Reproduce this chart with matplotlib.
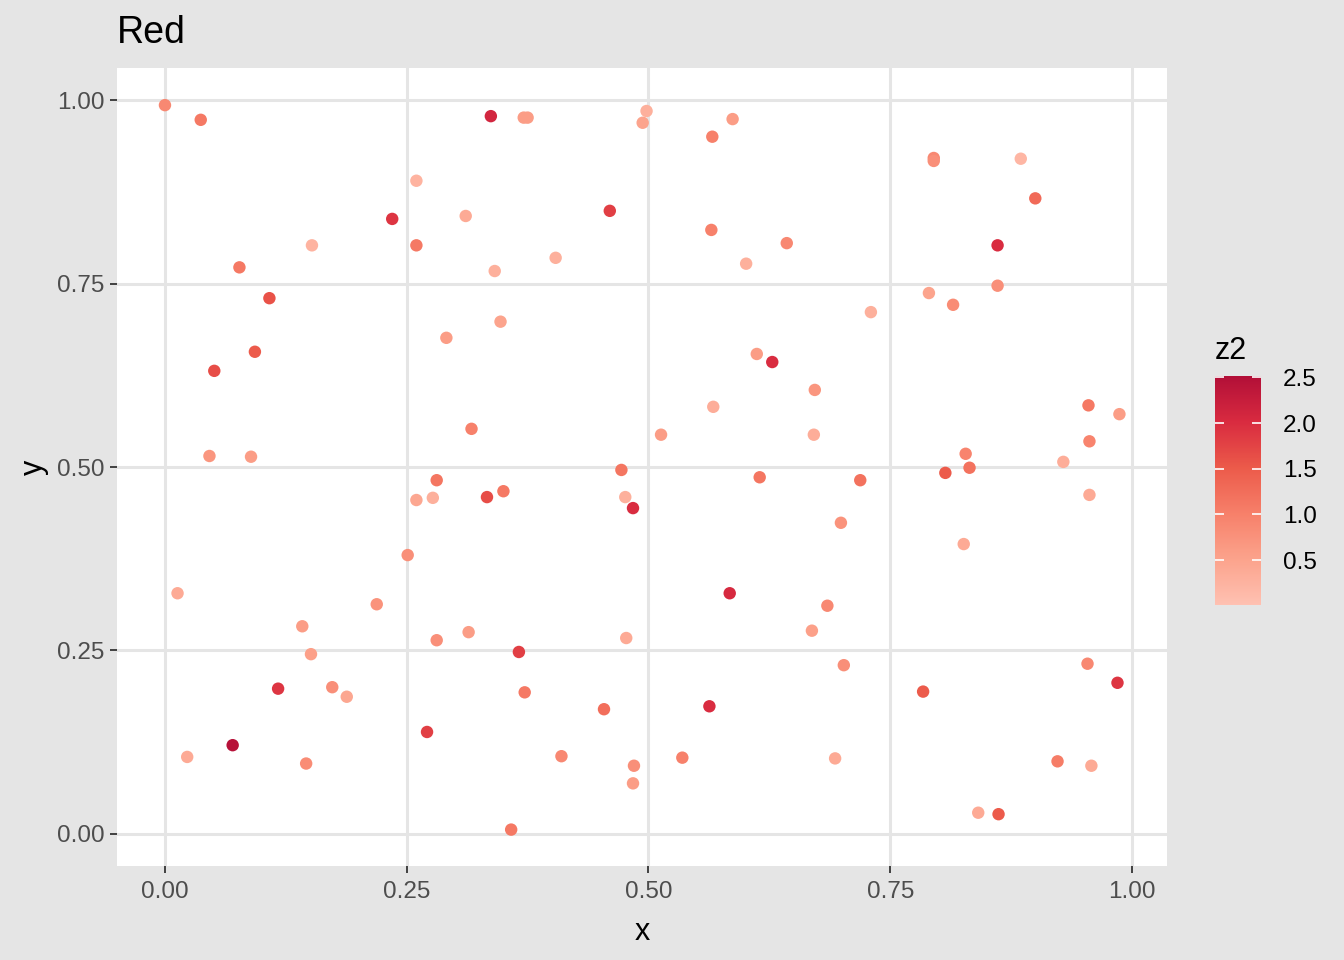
import numpy as np
import matplotlib
matplotlib.use("Agg")
import matplotlib.pyplot as plt
from matplotlib.colors import LinearSegmentedColormap

# points (x, y, z2)
x = [0.000, 0.037, 0.337, 0.371, 0.375, 0.498, 0.494, 0.566, 0.587, 0.795,
     0.795, 0.885, 0.900, 0.235, 0.260, 0.260, 0.311, 0.152, 0.460, 0.565,
     0.643, 0.601, 0.404, 0.341, 0.077, 0.108, 0.093, 0.051, 0.347, 0.291,
     0.317, 0.046, 0.089, 0.513, 0.567, 0.612, 0.628, 0.672, 0.671, 0.861,
     0.861, 0.790, 0.815, 0.730, 0.955, 0.987, 0.956, 0.828, 0.929, 0.281,
     0.260, 0.277, 0.251, 0.013, 0.219, 0.142, 0.314, 0.281, 0.151, 0.117,
     0.173, 0.188, 0.271, 0.070, 0.023, 0.146, 0.472, 0.615, 0.333, 0.350,
     0.476, 0.484, 0.584, 0.477, 0.669, 0.366, 0.372, 0.454, 0.563, 0.410,
     0.485, 0.484, 0.535, 0.358, 0.832, 0.807, 0.719, 0.956, 0.699, 0.826,
     0.685, 0.702, 0.954, 0.985, 0.784, 0.693, 0.923, 0.958, 0.841, 0.862]
y = [0.993, 0.973, 0.978, 0.976, 0.976, 0.985, 0.969, 0.950, 0.974, 0.921,
     0.917, 0.920, 0.866, 0.838, 0.890, 0.802, 0.842, 0.802, 0.849, 0.823,
     0.805, 0.777, 0.785, 0.767, 0.772, 0.730, 0.657, 0.631, 0.698, 0.676,
     0.552, 0.515, 0.514, 0.544, 0.582, 0.654, 0.643, 0.605, 0.544, 0.802,
     0.747, 0.737, 0.721, 0.711, 0.584, 0.572, 0.535, 0.518, 0.507, 0.482,
     0.455, 0.458, 0.380, 0.328, 0.313, 0.283, 0.275, 0.264, 0.245, 0.198,
     0.200, 0.187, 0.139, 0.121, 0.105, 0.096, 0.496, 0.486, 0.459, 0.467,
     0.459, 0.444, 0.328, 0.267, 0.277, 0.248, 0.193, 0.170, 0.174, 0.106,
     0.093, 0.069, 0.104, 0.006, 0.499, 0.492, 0.482, 0.462, 0.424, 0.395,
     0.311, 0.230, 0.232, 0.206, 0.194, 0.103, 0.099, 0.093, 0.029, 0.027]
z2 = [0.90, 1.10, 2.10, 0.60, 0.60, 0.30, 0.50, 1.00, 0.60, 0.90,
      0.80, 0.20, 1.30, 1.90, 0.25, 1.10, 0.40, 0.25, 1.80, 1.00,
      0.90, 0.30, 0.30, 0.30, 1.10, 1.60, 1.50, 1.65, 0.50, 0.60,
      1.00, 0.70, 0.60, 0.60, 0.35, 0.60, 2.00, 0.70, 0.35, 2.00,
      0.80, 0.50, 0.85, 0.30, 1.10, 0.60, 0.95, 0.95, 0.35, 1.15,
      0.45, 0.30, 0.80, 0.40, 0.75, 0.60, 0.60, 0.80, 0.55, 1.90,
      0.80, 0.45, 1.80, 2.45, 0.40, 0.85, 1.15, 1.15, 1.65, 1.10,
      0.30, 2.00, 2.05, 0.40, 0.55, 1.80, 1.10, 1.25, 2.00, 0.90,
      0.80, 0.60, 1.00, 1.10, 1.20, 1.50, 1.20, 0.40, 0.75, 0.40,
      0.90, 0.80, 0.90, 1.90, 1.50, 0.40, 1.05, 0.40, 0.40, 1.50]
x_ticks = [0.00, 0.25, 0.50, 0.75, 1.00]
y_ticks = [0.00, 0.25, 0.50, 0.75, 1.00]
cbar_ticks = [0.5, 1.0, 1.5, 2.0, 2.5]
z_min, z_max = 0.01, 2.515

reds = LinearSegmentedColormap.from_list(
    "reds", ["#FFC1B2", "#FCA38C", "#F7806A", "#EC5A4A", "#D92B40", "#B20F38"])

plt.rcParams["font.family"] = ["Liberation Sans", "DejaVu Sans"]
fig = plt.figure(figsize=(13.44, 9.6), dpi=100, facecolor="#E5E5E5")
ax = fig.add_axes([117/1344, 1-866/960, 1050/1344, 798/960])
ax.set_facecolor("white")

ax.scatter(x, y, c=z2, cmap=reds, vmin=z_min, vmax=z_max, s=80,
           linewidths=0, zorder=3)

ax.set_xlim(-0.0496, 1.0362)
ax.set_ylim(-0.0436, 1.0436)
ax.set_xticks(x_ticks)
ax.set_yticks(y_ticks)
ax.set_xticklabels(["%.2f" % t for t in x_ticks])
ax.set_yticklabels(["%.2f" % t for t in y_ticks])
ax.grid(True, color="#E5E5E5", linewidth=2.2, zorder=0)
ax.set_axisbelow(True)
for s in ax.spines.values():
    s.set_visible(False)
ax.tick_params(length=5, width=1.3, color="#333333", labelcolor="#4D4D4D",
               labelsize=17.5)
ax.tick_params(axis="x", pad=6)
ax.tick_params(axis="y", pad=4)
ax.set_xlabel("x", fontsize=22, color="black", labelpad=10)
ax.set_ylabel("y", fontsize=22, color="black", labelpad=6)
ax.set_title("Red", fontsize=27, loc="left", color="black", pad=18, x=0.0)

# colour bar drawn by hand, ggplot style
cax = fig.add_axes([1215/1344, 1-605/960, 46/1344, 229/960])
grad = np.linspace(z_min, z_max, 300).reshape(-1, 1)
cax.imshow(grad, aspect="auto", origin="lower", cmap=reds,
           vmin=z_min, vmax=z_max, extent=[0, 1, z_min, z_max])
cax.set_xlim(0, 1)
cax.set_ylim(z_min, z_max)
for t in cbar_ticks:
    cax.plot([0, 0.2], [t, t], color="white", lw=1.2, solid_capstyle="butt")
    cax.plot([0.8, 1], [t, t], color="white", lw=1.2, solid_capstyle="butt")
cax.set_xticks([])
cax.yaxis.tick_right()
cax.set_yticks(cbar_ticks)
cax.set_yticklabels(["%.1f" % t for t in cbar_ticks])
cax.tick_params(axis="y", length=0, labelsize=17.5, labelcolor="black", pad=16)
for s in cax.spines.values():
    s.set_visible(False)
cax.set_title("z2", fontsize=22, loc="left", pad=12)

fig.savefig("out.png", dpi=100, facecolor=fig.get_facecolor())
